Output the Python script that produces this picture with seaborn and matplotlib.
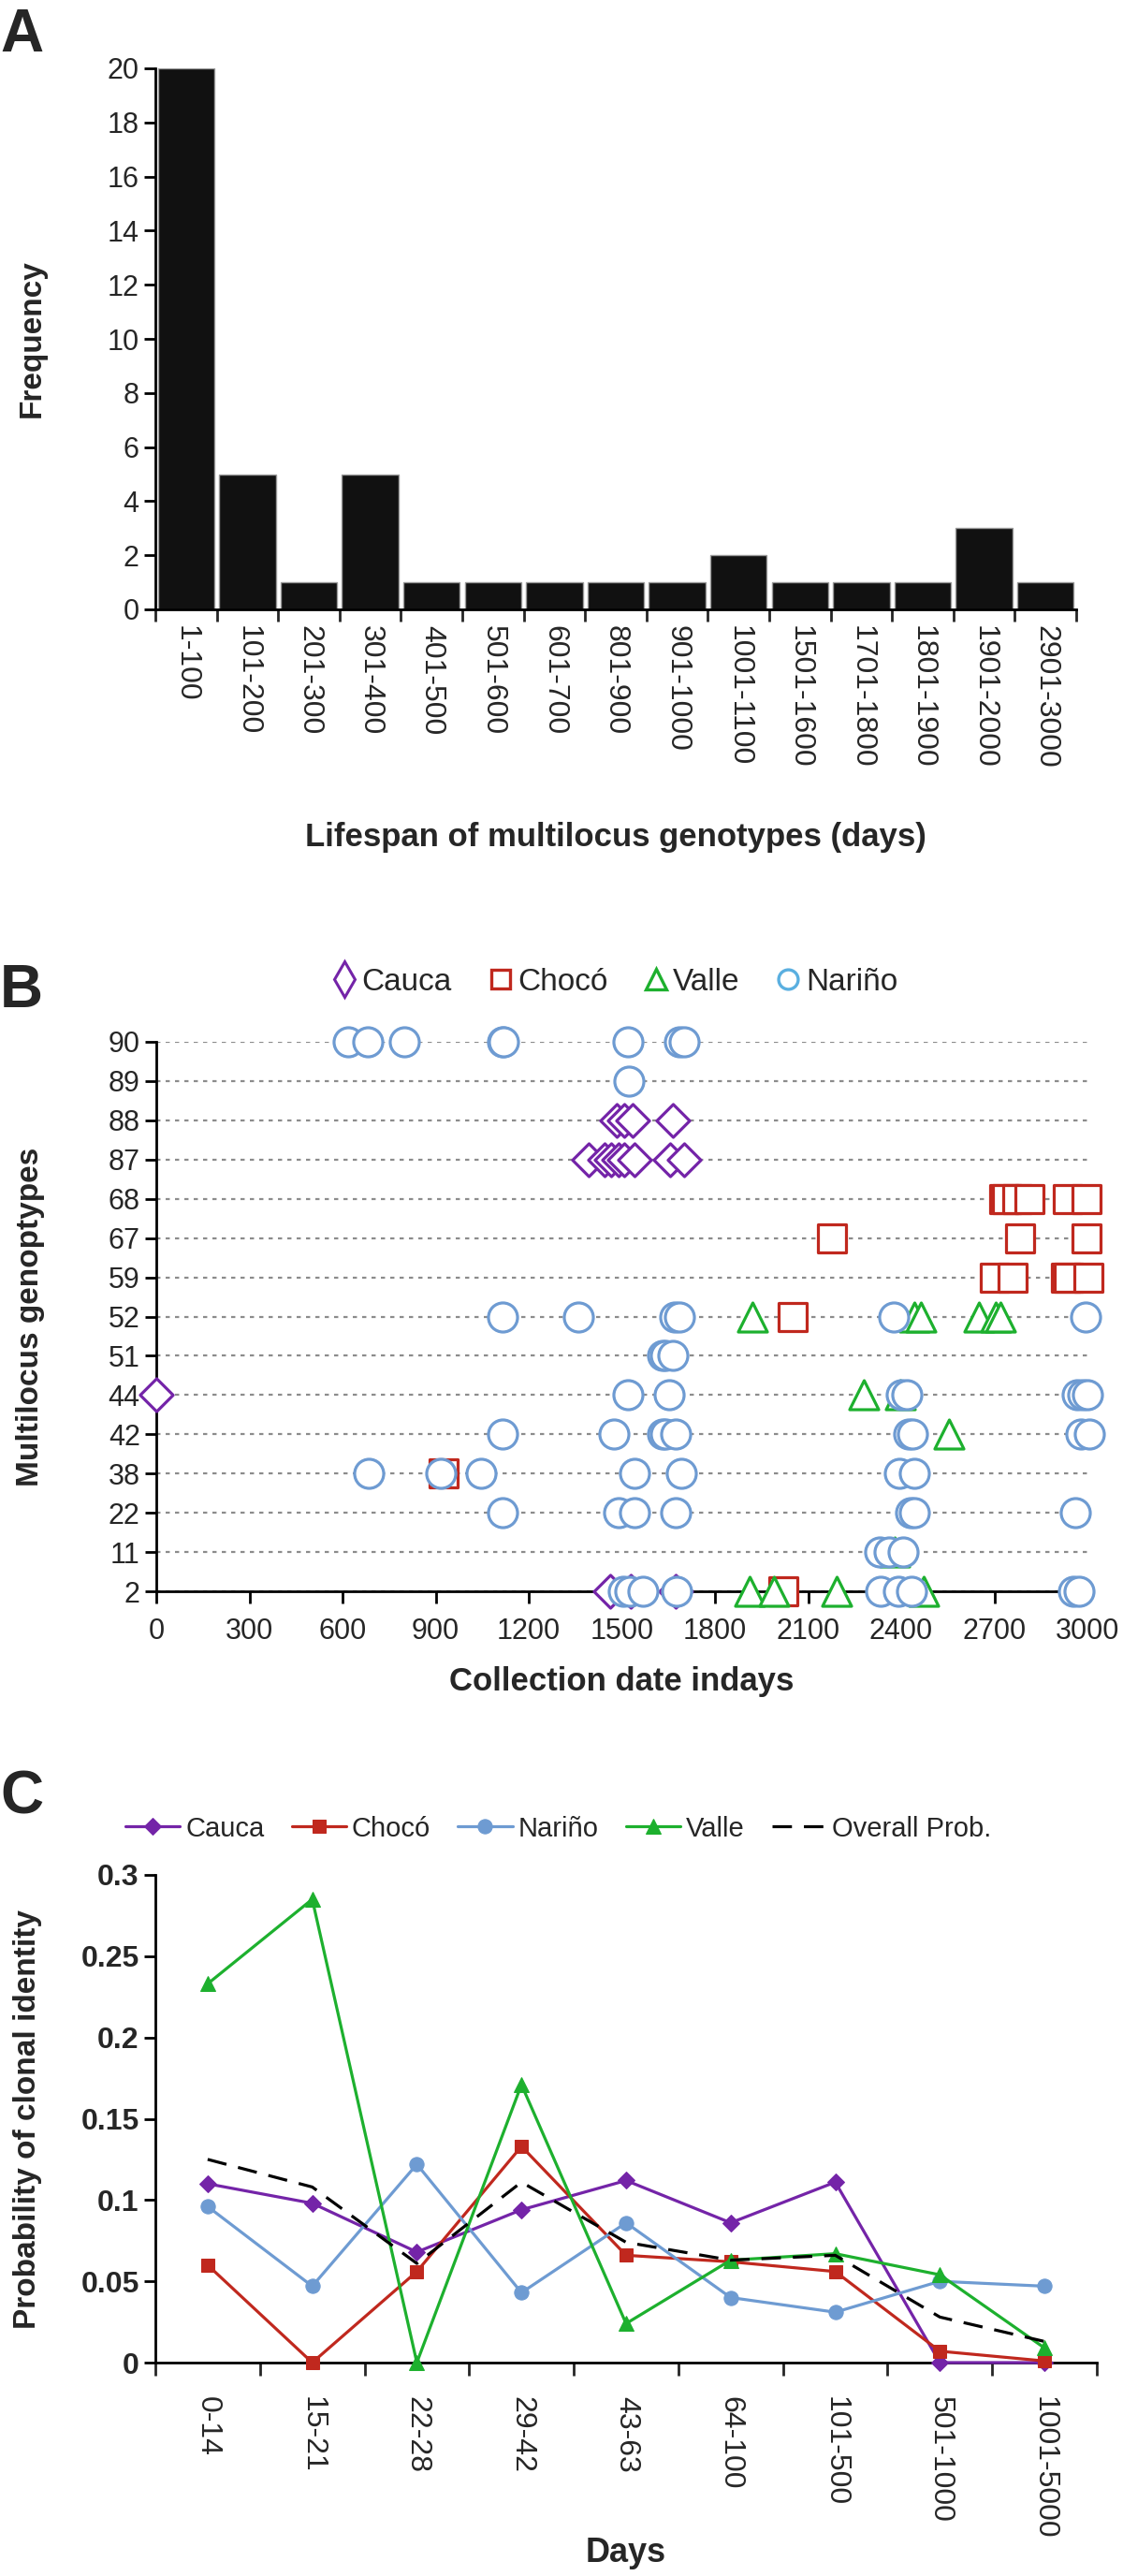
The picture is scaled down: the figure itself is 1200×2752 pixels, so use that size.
import numpy as np
import pandas as pd
import matplotlib
matplotlib.use("Agg")
import matplotlib.pyplot as plt
from matplotlib.lines import Line2D
import seaborn as sns

sns.set_style("ticks")
plt.rcParams["font.family"] = ["Liberation Sans", "DejaVu Sans"]

# ---------------- panel A: lifespan histogram
lifespan_bins = ["1-100", "101-200", "201-300", "301-400", "401-500", "501-600",
                 "601-700", "801-900", "901-1000", "1001-1100", "1501-1600",
                 "1701-1800", "1801-1900", "1901-2000", "2901-3000"]
lifespan_freq = [20, 5, 1, 5, 1, 1, 1, 1, 1, 2, 1, 1, 1, 3, 1]

# ---------------- panel B: collection dates per MLG (bottom -> top order)
mlg_order = ["2", "11", "22", "38", "42", "44", "51", "52", "59", "67", "68", "87", "88", "89", "90"]

cauca_days = [1484, 1508, 1535, 1663,
              1392, 1445, 1466, 1490, 1508, 1540, 1656, 1702,
              0,
              1462, 1529, 1672]
cauca_mlg = ["88"] * 4 + ["87"] * 8 + ["44"] + ["2"] * 3

choco_days = [2731, 2740, 2773, 2812, 2938, 2998,
              2178, 2782, 2998,
              2700, 2758, 2932, 2940, 3004,
              2049, 925, 2019]
choco_mlg = ["68"] * 6 + ["67"] * 3 + ["59"] * 5 + ["52", "38", "2"]

valle_days = [1921, 2441, 2463, 2650, 2704, 2719,
              2279, 2396, 2555, 2380,
              1911, 1989, 2193, 2471]
valle_mlg = ["52"] * 6 + ["44", "44", "42", "11"] + ["2"] * 4

narino_days = [619, 680, 799, 1115, 1119, 1520, 1684, 1700,
               1522,
               1115, 1361, 1670, 1684, 2375, 2993,
               1630, 1639, 1663,
               1520, 1651, 2399, 2417, 2967, 2985, 3001,
               1115, 1475, 1630, 1639, 1672, 2423, 2435, 2979, 3006,
               685, 917, 1046, 1541, 1690, 2393, 2441,
               1115, 1490, 1541, 1672, 2429, 2441, 2961,
               2330, 2360, 2405,
               1504, 1526, 1567, 1675, 2333, 2390, 2434, 2955, 2973]
narino_mlg = (["90"] * 8 + ["89"] + ["52"] * 6 + ["51"] * 3 + ["44"] * 7 + ["42"] * 9
              + ["38"] * 7 + ["22"] * 7 + ["11"] * 3 + ["2"] * 9)

# ---------------- panel C: probability of clonal identity
day_classes = ["0-14", "15-21", "22-28", "29-42", "43-63", "64-100", "101-500", "501-1000", "1001-5000"]
prob_cauca = [0.110, 0.098, 0.068, 0.094, 0.112, 0.086, 0.111, 0.0, 0.0]
prob_choco = [0.060, 0.0, 0.056, 0.133, 0.066, 0.062, 0.056, 0.007, 0.001]
prob_narino = [0.096, 0.047, 0.122, 0.043, 0.086, 0.040, 0.031, 0.050, 0.047]
prob_valle = [0.233, 0.285, 0.0, 0.171, 0.024, 0.063, 0.067, 0.054, 0.009]
prob_overall = [0.125, 0.108, 0.061, 0.111, 0.074, 0.063, 0.066, 0.028, 0.013]

purple = "#7424A8"
red = "#C0281E"
green = "#1DB02E"
blue = "#6E9BD2"

W, H = 1200, 2752
fig = plt.figure(figsize=(12, 27.52), dpi=100)


def box(x0, y0, x1, y1):
    return [x0 / W, 1 - y1 / H, (x1 - x0) / W, (y1 - y0) / H]


def style_axis(ax):
    sns.despine(ax=ax)
    for s in ["left", "bottom"]:
        ax.spines[s].set_linewidth(2)
        ax.spines[s].set_color("black")
    ax.tick_params(width=2, length=9, labelsize=22, color="black")


# ---------------- A
axA = fig.add_axes(box(166, 73, 1150, 651))
sns.barplot(x=lifespan_bins, y=lifespan_freq, color="#111111", saturation=1,
            width=0.92, edgecolor="#9a9a9a", linewidth=1, ax=axA)
style_axis(axA)
axA.set_ylim(0, 20)
axA.set_yticks(range(0, 21, 2))
axA.set_xlim(-0.5, len(lifespan_bins) - 0.5)
axA.tick_params(axis="x", length=0, pad=12, labelsize=23)
axA.set_xticks(np.arange(-0.5, len(lifespan_bins), 1), minor=True)
axA.tick_params(axis="x", which="minor", length=9, width=2)
plt.setp(axA.get_xticklabels(), rotation=-90, ha="center", va="top")
axA.set_xlabel("Lifespan of multilocus genotypes (days)", fontsize=25, fontweight="bold")
axA.xaxis.set_label_coords(0.5, (651 - 878) / 578)
axA.set_ylabel("Frequency", fontsize=24, fontweight="bold")
axA.yaxis.set_label_coords(-0.118, 0.5)
fig.text(0.0, 1 - 8 / H, "A", fontsize=46, fontweight="bold", va="top", ha="left")

# ---------------- B
axB = fig.add_axes(box(167, 1113, 1162, 1700))
style_axis(axB)
ypos = {m: i for i, m in enumerate(mlg_order)}
axB.yaxis.grid(True, linestyle=(0, (2, 2.5)), color="#8c8c8c", linewidth=1.6)
axB.set_axisbelow(True)

groups = [
    (cauca_days, cauca_mlg, "D", purple, 320),
    (choco_days, choco_mlg, "s", red, 450),
    (valle_days, valle_mlg, "^", green, 500),
    (narino_days, narino_mlg, "o", blue, 500),
]
for days, mlg, mk, col, sz in groups:
    sns.scatterplot(x=days, y=[ypos[m] for m in mlg], marker=mk, s=sz, color="white",
                    edgecolor=col, linewidth=2.3, clip_on=False, zorder=3, ax=axB)

axB.set_ylim(0, len(mlg_order) - 1)
axB.set_yticks(range(len(mlg_order)))
axB.set_yticklabels(mlg_order)
axB.set_xlim(0, 3000)
axB.set_xticks(range(0, 3001, 300))
axB.tick_params(axis="x", pad=11)
axB.set_xlabel("Collection date indays", fontsize=25, fontweight="bold")
axB.xaxis.set_label_coords(0.5, (1700 - 1780) / 587)
axB.set_ylabel("Multilocus genoptypes", fontsize=24, fontweight="bold")
axB.yaxis.set_label_coords(-0.12, 0.5)

leg_handles = [
    Line2D([], [], marker="d", ls="", mfc="white", mec=purple, mew=2.2, ms=19),
    Line2D([], [], marker="s", ls="", mfc="white", mec=red, mew=2.4, ms=15),
    Line2D([], [], marker="^", ls="", mfc="white", mec=green, mew=2.4, ms=16),
    Line2D([], [], marker="o", ls="", mfc="white", mec="#5AAFE0", mew=2.4, ms=15),
]
axB.legend(leg_handles, ["Cauca", "Chocó", "Valle", "Nariño"], loc="center",
           bbox_to_anchor=(0.49, 1.109), ncol=4, frameon=False,
           prop={"family": ["Liberation Sans Narrow", "Liberation Sans"], "size": 24},
           handletextpad=0.0, columnspacing=1.0, handlelength=1.1)
fig.text(0.0, 1 - 1029 / H, "B", fontsize=46, fontweight="bold", va="top", ha="left")

# ---------------- C
axC = fig.add_axes(box(166, 2003, 1172, 2524))
style_axis(axC)
xc = np.arange(len(day_classes))
series = [
    ("Cauca", prob_cauca, purple, "D", 9),
    ("Chocó", prob_choco, red, "s", 10),
    ("Nariño", prob_narino, blue, "o", 11),
    ("Valle", prob_valle, green, "^", 11),
]
for name, vals, col, mk, ms in series:
    sns.lineplot(x=xc, y=vals, color=col, marker=mk, markersize=ms, markeredgecolor=col,
                 linewidth=2.3, label=name, clip_on=False, zorder=3, ax=axC)
sns.lineplot(x=xc, y=prob_overall, color="black", linewidth=2.3, dashes=False,
             label="Overall Prob.", zorder=4, ax=axC)
axC.lines[-1].set_dashes((6.5, 4))

axC.set_xlim(-0.5, len(day_classes) - 0.5)
axC.set_ylim(0, 0.3)
axC.set_yticks([0, 0.05, 0.1, 0.15, 0.2, 0.25, 0.3])
axC.set_yticklabels(["0", "0.05", "0.1", "0.15", "0.2", "0.25", "0.3"], fontweight="bold")
axC.set_xticks(xc)
axC.set_xticklabels(day_classes, rotation=-90, ha="center", va="top")
axC.tick_params(axis="x", length=0, pad=26, labelsize=23)
axC.set_xticks(np.arange(-0.5, len(day_classes), 1), minor=True)
axC.tick_params(axis="x", which="minor", length=10, width=2)
axC.tick_params(axis="y", labelsize=23)
axC.set_xlabel("Days", fontsize=26, fontweight="bold")
axC.xaxis.set_label_coords(0.5, (2524 - 2710) / 521)
axC.set_ylabel("Probability of clonal identity", fontsize=24, fontweight="bold")
axC.yaxis.set_label_coords(-0.12, 0.5)
axC.legend(loc="center", bbox_to_anchor=(0.428, 1.095), ncol=5, frameon=False, fontsize=21,
           handletextpad=0.2, columnspacing=1.0, handlelength=2.0)
fig.text(0.0, 1 - 1890 / H, "C", fontsize=46, fontweight="bold", va="top", ha="left")

fig.savefig("out.png", dpi=100)
